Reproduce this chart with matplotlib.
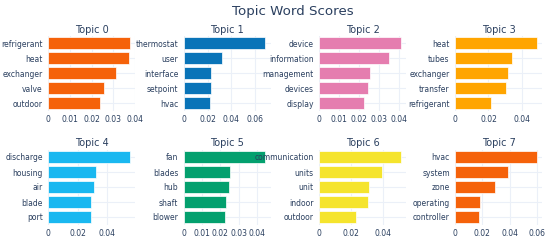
import matplotlib.pyplot as plt
from matplotlib.ticker import FixedLocator, FuncFormatter

plt.rcParams['font.family'] = ['DejaVu Sans']

topics = ['Topic 0', 'Topic 1', 'Topic 2', 'Topic 3',
          'Topic 4', 'Topic 5', 'Topic 6', 'Topic 7']
words = [
    ['refrigerant', 'heat', 'exchanger', 'valve', 'outdoor'],
    ['thermostat', 'user', 'interface', 'setpoint', 'hvac'],
    ['device', 'information', 'management', 'devices', 'display'],
    ['heat', 'tubes', 'exchanger', 'transfer', 'refrigerant'],
    ['discharge', 'housing', 'air', 'blade', 'port'],
    ['fan', 'blades', 'hub', 'shaft', 'blower'],
    ['communication', 'units', 'unit', 'indoor', 'outdoor'],
    ['hvac', 'system', 'zone', 'operating', 'controller'],
]
scores = [
    [0.0375, 0.0370, 0.0310, 0.0255, 0.0238],
    [0.0683, 0.0318, 0.0232, 0.0230, 0.0221],
    [0.0408, 0.0348, 0.0253, 0.0246, 0.0224],
    [0.0490, 0.0340, 0.0320, 0.0306, 0.0213],
    [0.0556, 0.0325, 0.0310, 0.0292, 0.0290],
    [0.0445, 0.0256, 0.0250, 0.0234, 0.0227],
    [0.0510, 0.0392, 0.0314, 0.0306, 0.0233],
    [0.0600, 0.0388, 0.0293, 0.0180, 0.0176],
]
tick_steps = [0.01, 0.02, 0.01, 0.02, 0.02, 0.01, 0.02, 0.02]
colors = ['#F5620A', '#0A74B8', '#E57DAF', '#FFA500',
          '#1AB8F0', '#03A06E', '#F5E42D', '#F5620A']

W, H = 550, 241
fig = plt.figure(figsize=(W / 100, H / 100), dpi=100)
fig.patch.set_facecolor('white')

txt = '#2a3f5f'
grid = '#EBF0F8'
lefts = [48.3, 183.7, 319.3, 455.3]
tops = [36, 149.5]
aw, ah = 87, 75

for i in range(8):
    r, c = divmod(i, 4)
    ax = fig.add_axes([lefts[c] / W, 1 - (tops[r] + ah) / H, aw / W, ah / H])
    ypos = list(range(len(words[i])))
    ax.barh(ypos, scores[i], height=0.8, color=colors[i],
            edgecolor='white', linewidth=0.5, zorder=3)
    xmax = max(scores[i]) * 1.07
    ax.set_xlim(0, xmax)
    ax.set_ylim(len(words[i]) - 0.5, -0.5)
    step = tick_steps[i]
    ticks = []
    t = 0.0
    while t <= xmax + 1e-9:
        ticks.append(round(t, 4))
        t += step
    ax.xaxis.set_major_locator(FixedLocator(ticks))
    ax.xaxis.set_major_formatter(FuncFormatter(lambda v, p: '%g' % v))
    ax.set_yticks(ypos)
    ax.set_yticklabels(words[i])
    ax.tick_params(axis='both', length=0, labelsize=5.5, colors=txt)
    ax.tick_params(axis='y', pad=4)
    ax.tick_params(axis='x', pad=3)
    ax.grid(True, color=grid, linewidth=0.8, zorder=0)
    ax.axvline(0, color=grid, linewidth=1.5, zorder=1)
    for s in ax.spines.values():
        s.set_visible(False)
    ax.set_title(topics[i], fontsize=7, color=txt, pad=2.5)

fig.text(293 / W, 1 - 12 / H, 'Topic Word Scores', ha='center', va='center',
         fontsize=9.6, color=txt)

fig.savefig('out.png', dpi=100, facecolor='white')
